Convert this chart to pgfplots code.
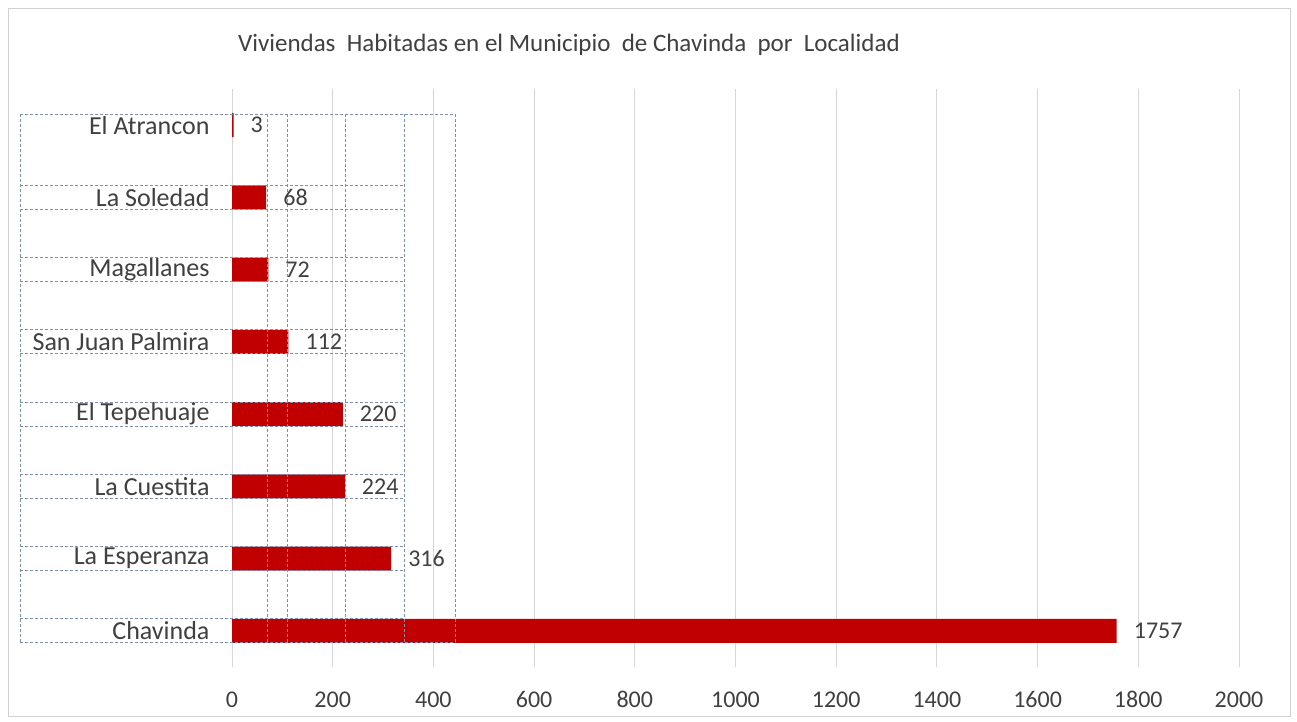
\documentclass[border=0pt]{standalone}
\usepackage{pgfplots}
\pgfplotsset{compat=1.18}
\usepackage{fontspec}
\setmainfont{Carlito}
\definecolor{txt}{RGB}{64,64,64}
\definecolor{barred}{RGB}{192,0,0}
\definecolor{dsh}{RGB}{125,145,175}
\begin{document}
\begin{tikzpicture}
\fill[white] (0pt,0pt) rectangle (1297pt,-721pt);
\draw[black!18] (8pt,-8pt) rectangle (1290pt,-716pt);
\node[font=\fontsize{25}{30}\selectfont, text=txt] at (569pt,-45pt) {Viviendas~ Habitadas en el Municipio~ de Chavinda~ por~ Localidad};
\begin{axis}[
  at={(232pt,-667pt)}, anchor=south west,
  scale only axis, width=1007pt, height=578pt,
  xbar, bar width=24pt,
  xmin=0, xmax=2000, ymin=-0.5, ymax=7.5,
  xtick={0,200,...,2000},
  ytick={0,...,7},
  yticklabels={Chavinda,La Esperanza,La Cuestita,El Tepehuaje,San Juan Palmira,Magallanes,La Soledad,El Atrancon},
  xmajorgrids, grid style={black!16, line width=1pt},
  axis line style={draw=none},
  major tick length=0pt,
  clip=false,
  /pgf/number format/assume math mode=true,
  /pgf/number format/1000 sep={},
  xticklabel style={font=\fontsize{24}{28}\selectfont, text=txt, yshift=-21pt},
  yticklabel style={font=\fontsize{26}{31}\selectfont, text=txt, xshift=-19pt},
  nodes near coords,
  every node near coord/.append style={font=\fontsize{24}{28}\selectfont, text=txt, anchor=west, inner sep=0pt, xshift=17pt},
]
\addplot[fill=barred, draw=none] coordinates {
(1757,0) (316,1) (224,2) (220,3) (112,4) (72,5) (68,6) (3,7)};
% dashed overlay (cell selection boxes)
\begin{scope}[dsh, densely dashed, line width=0.8pt]
\draw (axis cs:-421,7.15) -- (axis cs:443,7.15);
\draw (axis cs:-421,-0.166) -- (axis cs:443,-0.166);
\draw (axis cs:-421,6.166) -- (axis cs:342,6.166);
\draw (axis cs:-421,5.834) -- (axis cs:342,5.834);
\draw (axis cs:-421,5.166) -- (axis cs:342,5.166);
\draw (axis cs:-421,4.834) -- (axis cs:342,4.834);
\draw (axis cs:-421,4.166) -- (axis cs:342,4.166);
\draw (axis cs:-421,3.834) -- (axis cs:342,3.834);
\draw (axis cs:-421,3.166) -- (axis cs:342,3.166);
\draw (axis cs:-421,2.834) -- (axis cs:342,2.834);
\draw (axis cs:-421,2.166) -- (axis cs:342,2.166);
\draw (axis cs:-421,1.834) -- (axis cs:342,1.834);
\draw (axis cs:-421,1.166) -- (axis cs:342,1.166);
\draw (axis cs:-421,0.834) -- (axis cs:342,0.834);
\draw (axis cs:-421,0.166) -- (axis cs:342,0.166);
\draw (axis cs:-421,7.15) -- (axis cs:-421,-0.166);
\draw (axis cs:69.5,7.15) -- (axis cs:69.5,-0.166);
\draw (axis cs:111,7.15) -- (axis cs:111,-0.166);
\draw (axis cs:226,7.15) -- (axis cs:226,-0.166);
\draw (axis cs:342,7.15) -- (axis cs:342,-0.166);
\draw (axis cs:443,7.15) -- (axis cs:443,-0.166);
\end{scope}
\end{axis}
\end{tikzpicture}
\end{document}
